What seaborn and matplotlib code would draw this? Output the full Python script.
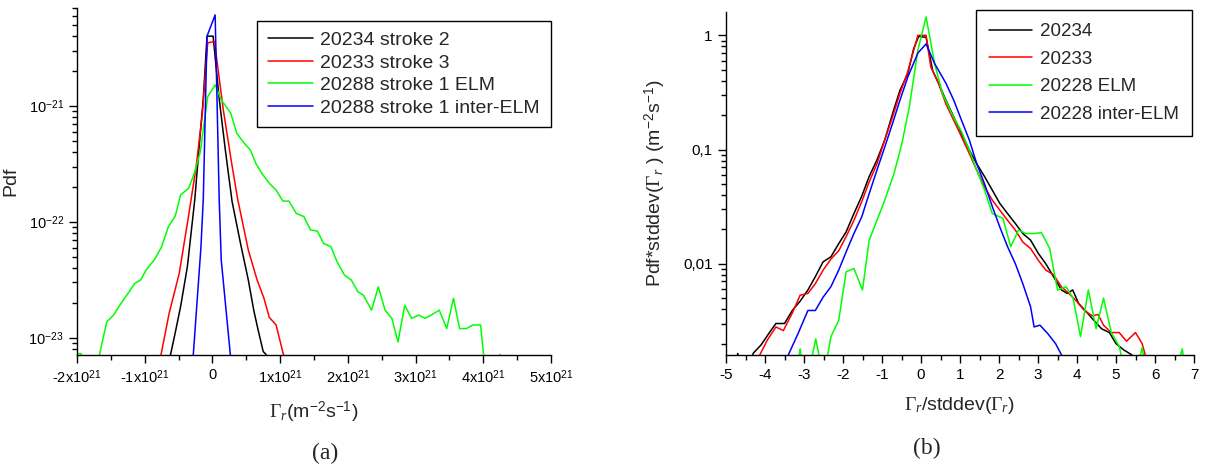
import numpy as np
import pandas as pd
import matplotlib
matplotlib.use("Agg")
import matplotlib.pyplot as plt
import seaborn as sns
from matplotlib.ticker import MultipleLocator, FixedLocator, FuncFormatter, LogLocator, NullFormatter

# ---------------- data: panel (a), x in units of 1e21 m^-2 s^-1 ----------------
a_names = ["20234 stroke 2", "20233 stroke 3", "20288 stroke 1 ELM", "20288 stroke 1 inter-ELM"]

a_black_x = [-0.66, -0.62, -0.55, -0.47, -0.37, -0.26, -0.20, -0.135, -0.08, 0.01, 0.10, 0.19, 0.29,
             0.415, 0.53, 0.61, 0.67, 0.75, 0.79, 0.83]
a_black_y = [4e-24, 7.1e-24, 1.1e-23, 1.86e-23, 4.1e-23, 1.57e-22, 4.2e-22, 1.15e-21, 4.0e-21, 4.0e-21,
             1.15e-21, 4.2e-22, 1.5e-22, 6.5e-23, 3.15e-23, 1.73e-23, 1.2e-23, 7.6e-24, 7.2e-24, 5e-24]

a_red_x = [-0.80, -0.76, -0.64, -0.49, -0.35, -0.24, -0.15, -0.07, 0.03, 0.16, 0.27, 0.37, 0.53,
           0.66, 0.76, 0.84, 0.94, 1.05, 1.08]
a_red_y = [4e-24, 7.1e-24, 1.62e-23, 3.6e-23, 1.15e-22, 3.0e-22, 8.5e-22, 3.5e-21, 3.6e-21, 9.3e-22,
           3.6e-22, 1.6e-22, 5.7e-23, 3.15e-23, 2.2e-23, 1.5e-23, 1.29e-23, 7.1e-24, 4e-24]

a_green_x = [-2.00, -1.94, -1.86, -1.76, -1.67, -1.56, -1.46, -1.35, -1.23, -1.15, -1.06, -0.98,
             -0.86, -0.75, -0.65, -0.55, -0.47, -0.35, -0.27, -0.18, -0.07, 0.04, 0.13, 0.27, 0.36,
             0.47, 0.56, 0.64, 0.73, 0.84, 0.94, 1.04, 1.13, 1.24, 1.35, 1.45, 1.55, 1.64, 1.75,
             1.84, 1.95, 2.05, 2.15, 2.23, 2.35, 2.45, 2.55, 2.65, 2.74, 2.84, 2.94, 3.05, 3.14,
             3.23, 3.35, 3.46, 3.56, 3.65, 3.75, 3.85, 3.96, 4.03, 4.14, 4.25, 4.30]
a_green_y = [7.3e-24, 7.3e-24, 3e-24, 3e-24, 7.1e-24, 1.37e-23, 1.57e-23, 1.98e-23, 2.49e-23, 2.94e-23,
             3.15e-23, 3.84e-23, 4.69e-23, 6.1e-23, 9.1e-23, 1.12e-22, 1.71e-22, 1.95e-22, 2.6e-22,
             4.0e-22, 1.2e-21, 1.52e-21, 1.13e-21, 8.65e-22, 5.81e-22, 4.76e-22, 4.17e-22, 3.2e-22,
             2.62e-22, 2.15e-22, 1.88e-22, 1.51e-22, 1.51e-22, 1.18e-22, 1.11e-22, 8.5e-23, 8.33e-23,
             6.52e-23, 6.1e-23, 4.53e-23, 3.47e-23, 3.15e-23, 2.49e-23, 2.33e-23, 1.73e-23, 2.75e-23,
             1.73e-23, 1.47e-23, 9.2e-24, 1.91e-23, 1.47e-23, 1.57e-23, 1.47e-23, 1.57e-23, 1.73e-23,
             1.2e-23, 2.19e-23, 1.2e-23, 1.2e-23, 1.29e-23, 1.29e-23, 5e-24, 3e-24, 7.2e-24, 3e-24]

a_blue_x = [-0.32, -0.28, -0.17, -0.135, -0.08, 0.04, 0.10, 0.13, 0.29]
a_blue_y = [4e-24, 7.5e-24, 6e-23, 1.57e-22, 4.0e-21, 6.1e-21, 1.57e-22, 4.7e-23, 5e-24]

a_yticks = [1e-23, 1e-22, 1e-21]

# ---------------- data: panel (b) ----------------
b_names = ["20234", "20233", "20228 ELM", "20228 inter-ELM"]

b_black_x = [-4.8, -4.7, -4.5, -4.3, -4.1, -3.9, -3.72, -3.5, -3.3, -3.1, -2.9, -2.71, -2.51, -2.31,
             -2.11, -1.92, -1.72, -1.52, -1.33, -1.13, -0.93, -0.73, -0.54, -0.34, -0.19, -0.06, 0.13,
             0.3, 0.45, 0.64, 0.84, 1.04, 1.24, 1.43, 1.63, 1.83, 2.02, 2.22, 2.42, 2.61, 2.81, 3.01,
             3.2, 3.4, 3.6, 3.75, 3.89, 4.04, 4.24, 4.43, 4.63, 4.83, 5.0, 5.2, 5.4, 5.55]
b_black_y = [1e-3, 1.64e-3, 1e-3, 1.65e-3, 1.95e-3, 2.46e-3, 3.0e-3, 3.0e-3, 3.9e-3, 4.7e-3, 5.9e-3,
             7.7e-3, 1.04e-2, 1.15e-2, 1.5e-2, 1.9e-2, 2.75e-2, 3.9e-2, 5.8e-2, 8.1e-2, 0.121, 0.206,
             0.33, 0.46, 0.76, 0.98, 0.96, 0.49, 0.38, 0.27, 0.193, 0.138, 0.0987, 0.075, 0.058, 0.044,
             0.0338, 0.0275, 0.0225, 0.0184, 0.0161, 0.0123, 0.01, 0.0077, 0.0059, 0.0055, 0.0059,
             0.0045, 0.0038, 0.0032, 0.0027, 0.0025, 0.002, 0.00176, 0.0016, 0.0012]

b_red_x = [-4.2, -4.13, -3.94, -3.72, -3.53, -3.3, -3.1, -2.9, -2.71, -2.51, -2.31, -2.11, -1.92,
           -1.72, -1.52, -1.33, -1.13, -0.93, -0.73, -0.54, -0.34, -0.08, 0.13, 0.25, 0.45, 0.64,
           0.84, 1.04, 1.24, 1.43, 1.63, 1.83, 2.02, 2.22, 2.42, 2.61, 2.81, 3.01, 3.2, 3.4, 3.6,
           3.79, 3.99, 4.19, 4.39, 4.54, 4.68, 4.88, 5.08, 5.27, 5.5, 5.67, 5.85]
b_red_y = [1.2e-3, 1.6e-3, 2.15e-3, 2.8e-3, 2.6e-3, 3.7e-3, 5.3e-3, 5.5e-3, 6.7e-3, 8.8e-3, 1.1e-2,
           1.3e-2, 1.73e-2, 2.4e-2, 3.5e-2, 5.2e-2, 0.075, 0.121, 0.193, 0.31, 0.48, 1.0, 1.0, 0.53,
           0.38, 0.25, 0.18, 0.129, 0.092, 0.066, 0.047, 0.036, 0.0295, 0.024, 0.0197, 0.0155, 0.0136,
           0.0107, 0.0088, 0.008, 0.0063, 0.0055, 0.0047, 0.0039, 0.0035, 0.0036, 0.0029, 0.0025,
           0.0025, 0.0021, 0.0025, 0.002, 1.2e-3]

b_green_x = [-3.2, -3.1, -3.0, -2.9, -2.7, -2.5, -2.31, -2.11, -1.92, -1.72, -1.5, -1.33, -1.13, -0.93,
             -0.69, -0.49, -0.3, -0.08, 0.13, 0.35, 0.55, 0.79, 1.04, 1.24, 1.43, 1.63, 1.83, 2.1, 2.3,
             2.5, 2.69, 2.89, 3.09, 3.3, 3.5, 3.72, 3.9, 4.09, 4.29, 4.49, 4.68, 4.88, 5.08, 5.27, 5.5,
             5.67, 5.8, 6.5, 6.7, 6.8]
b_green_y = [1e-3, 1.8e-3, 1e-3, 1e-3, 2.2e-3, 1e-3, 2.3e-3, 3.2e-3, 8.5e-3, 9.1e-3, 5.9e-3, 1.6e-2,
             2.4e-2, 0.036, 0.062, 0.113, 0.236, 0.74, 1.45, 0.565, 0.31, 0.206, 0.143, 0.0987, 0.066,
             0.044, 0.0275, 0.025, 0.0141, 0.0197, 0.0184, 0.0184, 0.0187, 0.0136, 0.0059, 0.0063,
             0.005, 0.0023, 0.0059, 0.0027, 0.005, 0.0025, 0.0019, 1e-3, 1e-3, 1.85e-3, 1e-3, 1e-3,
             1.8e-3, 1e-3]

b_blue_x = [-3.5, -3.4, -3.15, -2.9, -2.71, -2.51, -2.31, -2.11, -1.92, -1.72, -1.52, -1.33, -1.13,
            -0.93, -0.73, -0.54, -0.34, -0.08, 0.13, 0.35, 0.64, 0.84, 1.04, 1.24, 1.43, 1.63, 1.83,
            2.02, 2.22, 2.42, 2.61, 2.81, 2.9, 3.05, 3.25, 3.45, 3.6, 3.7]
b_blue_y = [1.1e-3, 1.6e-3, 2.46e-3, 3.9e-3, 3.9e-3, 5.1e-3, 6.3e-3, 8.8e-3, 1.27e-2, 1.84e-2, 2.57e-2,
            4.1e-2, 0.066, 0.105, 0.169, 0.27, 0.43, 0.70, 0.84, 0.565, 0.38, 0.27, 0.18, 0.121, 0.075,
            0.05, 0.0316, 0.021, 0.0141, 0.01, 6.7e-3, 4.2e-3, 2.8e-3, 2.9e-3, 2.45e-3, 2.0e-3, 1.6e-3,
            1.1e-3]

b_yticks = [0.01, 0.1, 1]
b_ytick_labels = ["0,01", "0,1", "1"]

colors = ["#000000", "#ff0000", "#00ff00", "#0000ff"]


def long_frame(names, xs, ys, scale=1.0):
    parts = []
    for n, x, y in zip(names, xs, ys):
        parts.append(pd.DataFrame({"x": np.asarray(x) * scale, "y": y, "series": n}))
    return pd.concat(parts, ignore_index=True)


df_a = long_frame(a_names, [a_black_x, a_red_x, a_green_x, a_blue_x],
                  [a_black_y, a_red_y, a_green_y, a_blue_y], scale=1e21)
df_b = long_frame(b_names, [b_black_x, b_red_x, b_green_x, b_blue_x],
                  [b_black_y, b_red_y, b_green_y, b_blue_y])

sns.set_style("ticks")
plt.rcParams.update({
    "font.family": ["Liberation Sans", "DejaVu Sans"],
    "mathtext.fontset": "custom",
    "mathtext.rm": "Liberation Sans",
    "mathtext.it": "Liberation Serif:italic",
    "mathtext.bf": "Liberation Serif",
    "axes.unicode_minus": False,
    "axes.edgecolor": "black",
    "axes.linewidth": 1.0,
    "xtick.color": "black",
    "ytick.color": "black",
})

W, H = 1206, 469
fig = plt.figure(figsize=(W / 100, H / 100), dpi=100)
ax1 = fig.add_axes([77 / W, 1 - 355 / H, 474 / W, 347 / H])
ax2 = fig.add_axes([726 / W, 1 - 355 / H, 468 / W, 343 / H])

for ax, df, names, lsize in ((ax1, df_a, a_names, 10.5), (ax2, df_b, b_names, 11)):
    ax.set_yscale("log")
    sns.lineplot(data=df, x="x", y="y", hue="series", hue_order=names,
                 palette=dict(zip(names, colors)), estimator=None, sort=False,
                 linewidth=1.1, ax=ax)
    sns.despine(ax=ax)
    ax.tick_params(which="major", direction="out", length=6, width=1, labelsize=lsize,
                   colors="black")
    ax.tick_params(which="minor", direction="out", length=3.5, width=1)
    ax.yaxis.set_minor_formatter(NullFormatter())
    ax.xaxis.set_minor_formatter(NullFormatter())

# panel (a) axes
ax1.set_xlim(-2e21, 5e21)
ax1.set_ylim(7.1e-24, 7.0e-21)
ax1.xaxis.set_major_locator(MultipleLocator(1e21))
ax1.xaxis.set_minor_locator(MultipleLocator(0.5e21))
ax1.xaxis.set_major_formatter(FuncFormatter(
    lambda v, p: "0" if abs(v) < 1e15 else f"{int(round(v / 1e21))}x10$^{{21}}$"))
ax1.yaxis.set_major_locator(FixedLocator(a_yticks))
ax1.yaxis.set_minor_locator(LogLocator(base=10, subs=np.arange(2, 10)))
ax1.yaxis.set_major_formatter(FuncFormatter(
    lambda v, p: f"10$^{{{int(round(np.log10(v)))}}}$"))
ax1.set_xlabel(r"$\mathbf{\Gamma}_{r}$(m$^{-2}$s$^{-1}$)", fontsize=14, labelpad=10)
ax1.set_ylabel("Pdf", fontsize=14)
ax1.yaxis.set_label_coords((19 - 77) / 474, 0.5)

# panel (b) axes
ax2.set_xlim(-5, 7)
ax2.set_ylim(1.59e-3, 1.6)
ax2.xaxis.set_major_locator(MultipleLocator(1))
ax2.xaxis.set_minor_locator(MultipleLocator(0.5))
ax2.xaxis.set_major_formatter(FuncFormatter(lambda v, p: f"{int(round(v))}"))
ax2.yaxis.set_major_locator(FixedLocator(b_yticks))
ax2.set_yticklabels(b_ytick_labels)
ax2.yaxis.set_minor_locator(LogLocator(base=10, subs=np.arange(2, 10)))
ax2.set_xlabel(r"$\mathbf{\Gamma}_{r}$/stddev($\mathbf{\Gamma}_{r}$)", fontsize=14, labelpad=9)
ax2.set_ylabel(r"Pdf*stddev($\mathbf{\Gamma}_{r}$ ) (m$^{-2}$s$^{-1}$)", fontsize=14)
ax2.yaxis.set_label_coords((668 - 726) / 468, 0.5)

leg_kw = dict(title=None, frameon=True, fancybox=False, framealpha=1, edgecolor="black",
              handlelength=2.3, handletextpad=0.4, borderaxespad=0)
sns.move_legend(ax1, "upper left", bbox_to_anchor=(0.38, 0.963), labelspacing=0.25,
                fontsize=14, borderpad=0.55, **leg_kw)
sns.move_legend(ax2, "upper left", bbox_to_anchor=(0.534, 1.006), labelspacing=0.55,
                fontsize=13.5, borderpad=0.7, **leg_kw)
for ax in (ax1, ax2):
    lg = ax.get_legend()
    lg.get_frame().set_linewidth(1.0)
    for ln in lg.get_lines():
        ln.set_linewidth(1.1)

fig.text(325 / W, 1 - 453 / H, "(a)", family="Liberation Serif", fontsize=17,
         ha="center", va="center")
fig.text(927 / W, 1 - 448 / H, "(b)", family="Liberation Serif", fontsize=17,
         ha="center", va="center")

fig.savefig("out.png", dpi=100)
